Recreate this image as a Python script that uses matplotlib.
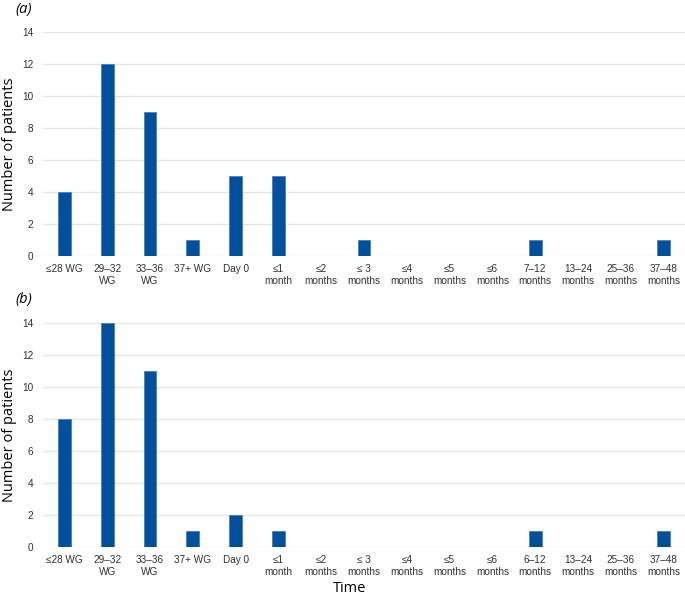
import matplotlib
matplotlib.use("Agg")
import matplotlib.pyplot as plt
import numpy as np

labels_a = ["≤28 WG", "29–32\nWG", "33–36\nWG", "37+ WG", "Day 0", "≤1\nmonth",
            "≤2\nmonths", "≤ 3\nmonths", "≤4\nmonths", "≤5\nmonths", "≤6\nmonths",
            "7–12\nmonths", "13–24\nmonths", "25–36\nmonths", "37–48\nmonths"]
labels_b = ["≤28 WG", "29–32\nWG", "33–36\nWG", "37+ WG", "Day 0", "≤1\nmonth",
            "≤2\nmonths", "≤ 3\nmonths", "≤4\nmonths", "≤5\nmonths", "≤6\nmonths",
            "6–12\nmonths", "13–24\nmonths", "25–36\nmonths", "37–48\nmonths"]
counts_a = [4, 12, 9, 1, 5, 5, 0, 1, 0, 0, 0, 1, 0, 0, 1]
counts_b = [8, 14, 11, 1, 2, 1, 0, 0, 0, 0, 0, 1, 0, 0, 1]

bar_color = "#00509E"
grid_color = "#E6E6E6"
tick_font = ["Liberation Sans", "DejaVu Sans"]
label_font = ["Open Sans", "DejaVu Sans"]

fig = plt.figure(figsize=(6.85, 5.95), dpi=100)

W, H = 685, 595
left, right = 43 / W, 685 / W
boxes = [(32, 256), (323, 547)]


def draw(ax, labels, counts):
    x = np.arange(len(labels))
    ax.bar(x, counts, width=0.3, color=bar_color, edgecolor="#4a80bd",
           linewidth=0.6, zorder=3)
    ax.set_xlim(-0.5, len(labels) - 0.5)
    ax.set_ylim(0, 14)
    ax.set_yticks(range(0, 15, 2))
    ax.set_xticks(x)
    ax.set_xticklabels(labels, fontsize=7.2, family=tick_font, color="#303030",
                       linespacing=1.15)
    for t in ax.get_yticklabels():
        t.set_fontsize(7.2)
        t.set_family(tick_font)
        t.set_color("#303030")
    ax.tick_params(axis="y", length=0, pad=7)
    ax.tick_params(axis="x", length=0, pad=6)
    ax.grid(axis="y", color=grid_color, linewidth=1.0, zorder=0)
    for s in ax.spines.values():
        s.set_visible(False)
    ax.set_ylabel("Number of patients", fontsize=10.5, family=label_font,
                  va="center")
    ax.yaxis.set_label_coords((10 - 43) / (685 - 43), 0.5)


ax_a = fig.add_axes([left, 1 - boxes[0][1] / H, right - left,
                     (boxes[0][1] - boxes[0][0]) / H])
draw(ax_a, labels_a, counts_a)
ax_b = fig.add_axes([left, 1 - boxes[1][1] / H, right - left,
                     (boxes[1][1] - boxes[1][0]) / H])
draw(ax_b, labels_b, counts_b)
ax_b.set_xlabel("Time", fontsize=10.5, family=label_font)
ax_b.xaxis.set_label_coords((350 - 43) / (685 - 43), -(588 - 547) / (547 - 323))
ax_b.xaxis.label.set_va("center")

fig.text(15 / W, 1 - 9 / H, "(a)", fontsize=10.5, style="italic",
         family=label_font, va="center", ha="left")
fig.text(15 / W, 1 - 299 / H, "(b)", fontsize=10.5, style="italic",
         family=label_font, va="center", ha="left")

fig.savefig("out.png", dpi=100)
